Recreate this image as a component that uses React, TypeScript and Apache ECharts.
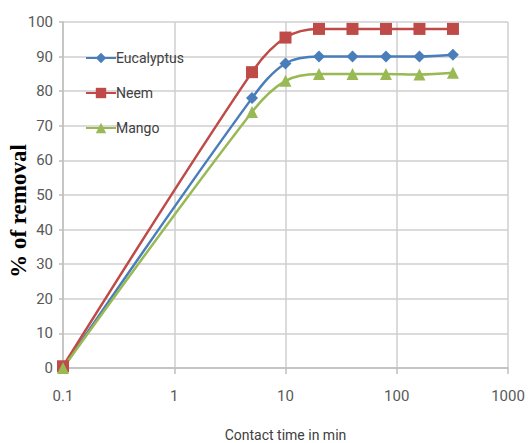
import React, { useEffect, useRef } from "react";
import * as echarts from "echarts";

const contactTime = [0.1, 5, 10, 20, 40, 80, 160, 320];
const eucalyptus = [0, 78, 88, 90, 90, 90, 90, 90.5];
const neem = [0.5, 85.5, 95.5, 98, 98, 98, 98, 98];
const mango = [0, 74, 83, 85, 85, 85, 84.8, 85.3];
const seriesNames = ["Eucalyptus", "Neem", "Mango"];
const seriesColors = ["#4a7ebb", "#be4b48", "#98b954"];
const yAxisTitle = "% of removal";
const xAxisTitle = "Contact time in min";

const labelFont = "Roboto, 'Noto Sans', sans-serif";

export default function App() {
  const ref = useRef<HTMLDivElement>(null);
  useEffect(() => {
    if (!ref.current) return;
    const chart = echarts.init(ref.current, null, { renderer: "svg" });
    const pairs = (ys: number[]) => contactTime.map((x, i) => [x, ys[i]]);
    const mk = (name: string, ys: number[], color: string, symbol: string, size: number) => ({
      name,
      type: "line",
      data: pairs(ys),
      smooth: 0.35,
      symbol,
      symbolSize: size,
      showAllSymbol: true,
      lineStyle: { color, width: 2.5 },
      itemStyle: { color },
    });
    chart.setOption({
      animation: false,
      backgroundColor: "#ffffff",
      grid: { left: 63, right: 23, top: 22, bottom: 75, containLabel: false, outerBoundsMode: "none" },
      legend: {
        orient: "vertical",
        left: 80,
        top: 46,
        itemWidth: 30,
        itemHeight: 13,
        itemGap: 21,
        data: seriesNames,
        textStyle: { color: "#404040", fontFamily: labelFont, fontSize: 14, padding: [0, 0, 0, -5] },
      },
      graphic: [
        {
          type: "text",
          x: 18,
          y: 211,
          rotation: Math.PI / 2,
          style: {
            text: yAxisTitle,
            fill: "#000000",
            font: "bold 23px 'Liberation Serif', 'DejaVu Serif', serif",
            textAlign: "center",
            textVerticalAlign: "middle",
          },
        },
      ],
      xAxis: {
        type: "log",
        logBase: 10,
        min: 0.1,
        max: 1000,
        name: xAxisTitle,
        nameLocation: "middle",
        nameGap: 60,
        nameTextStyle: { color: "#404040", fontFamily: labelFont, fontSize: 14 },
        axisLine: { show: true, lineStyle: { color: "#bfbfbf", width: 1.5 } },
        axisTick: { show: true, length: 6, lineStyle: { color: "#bfbfbf", width: 1.5 } },
        axisLabel: {
          color: "#595959",
          fontFamily: labelFont,
          fontSize: 15,
          margin: 20,
          formatter: (v: number) => (v < 1 ? "0.1" : String(Math.round(v))),
        },
        splitLine: { show: true, lineStyle: { color: "#cfcfcf", width: 1.5 } },
        minorTick: { show: false },
      },
      yAxis: {
        type: "value",
        min: 0,
        max: 100,
        interval: 10,
        axisLine: { show: true, lineStyle: { color: "#bfbfbf", width: 1.5 } },
        axisTick: { show: true, length: 4, lineStyle: { color: "#bfbfbf", width: 1.5 } },
        axisLabel: { color: "#595959", fontFamily: labelFont, fontSize: 15, margin: 10 },
        splitLine: { show: true, lineStyle: { color: "#cfcfcf", width: 1.5 } },
      },
      series: [
        mk(seriesNames[0], eucalyptus, seriesColors[0], "diamond", 12),
        mk(seriesNames[1], neem, seriesColors[1], "rect", 12),
        mk(seriesNames[2], mango, seriesColors[2], "triangle", 12),
      ],
    });
    return () => chart.dispose();
  }, []);
  return <div ref={ref} style={{ position: "absolute", left: 0, top: 0, width: 531, height: 443 }} />;
}
